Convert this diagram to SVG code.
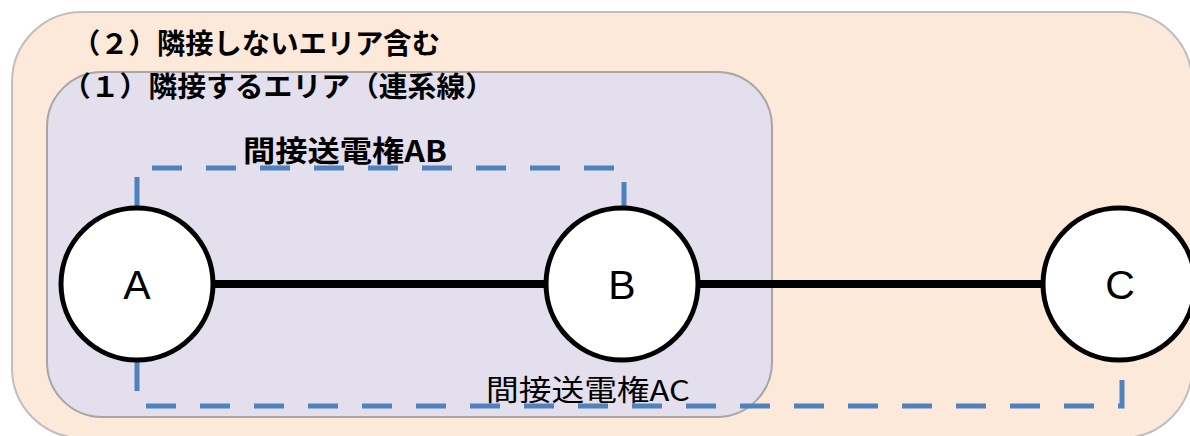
<svg xmlns="http://www.w3.org/2000/svg" width="1190" height="436" viewBox="0 0 1190 436">
<style>
.area2{fill:#FDE9D9;stroke:#BFBFBF;stroke-width:2}
.area1{fill:#E4DFEC;stroke:#A6A6A6;stroke-width:2}
.title{font-family:"Noto Sans CJK JP",sans-serif;font-weight:bold;font-size:28px;fill:#000}
.lbl{font-family:"Noto Sans CJK JP",sans-serif;font-size:29px;fill:#000}
.node circle{fill:#fff;stroke:#000;stroke-width:5}
.node text{font-family:"Liberation Sans","Noto Sans",sans-serif;font-size:41px;fill:#000;text-anchor:middle}
.link{stroke:#000;stroke-width:8;fill:none}
.dash{stroke:#4F81BD;stroke-width:5;fill:none;stroke-dasharray:30 24}
</style>
<g id="area2">
<rect class="area2" x="12" y="12" width="1180" height="426" rx="70" ry="70"/>
<text class="title" x="72" y="54" textLength="368" lengthAdjust="spacingAndGlyphs">（２）隣接しないエリア含む</text>
</g>
<g id="area1">
<rect class="area1" x="47" y="72" width="725" height="345" rx="55" ry="55"/>
<text class="title" x="62" y="97" textLength="432" lengthAdjust="spacingAndGlyphs">（１）隣接するエリア（連系線）</text>
</g>
<g id="connectors">
<line class="link" x1="137" y1="284" x2="1119" y2="284"/>
<path class="dash" d="M137,207 V168 H624 V207"/>
<path class="dash" d="M137,361 V406 H1122 V362"/>
</g>
<g id="labels">
<text class="lbl" x="243" y="162" font-weight="bold" textLength="204" lengthAdjust="spacingAndGlyphs">間接送電権AB</text>
<text class="lbl" x="486" y="401" textLength="204" lengthAdjust="spacingAndGlyphs">間接送電権AC</text>
</g>
<g id="nodeA" class="node">
<circle cx="137" cy="284" r="76"/>
<text x="137" y="299">A</text>
</g>
<g id="nodeB" class="node">
<circle cx="622" cy="284" r="76"/>
<text x="622" y="299">B</text>
</g>
<g id="nodeC" class="node">
<circle cx="1119" cy="284" r="76"/>
<text x="1120" y="299">C</text>
</g>
</svg>
